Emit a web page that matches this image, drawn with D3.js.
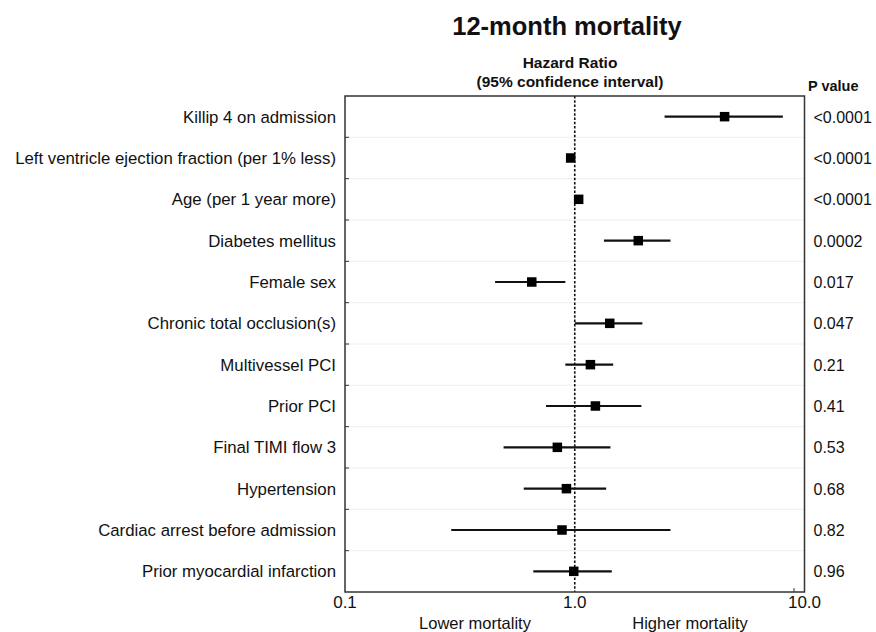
<!DOCTYPE html>
<html>
<head>
<meta charset="utf-8">
<script src="https://cdn.jsdelivr.net/npm/d3@7"></script>
<style>
  body { margin: 0; background: #fff; }
  text { font-family: "Liberation Sans", Arial, sans-serif; fill: #111; }
</style>
</head>
<body>
<div id="chart"></div>
<script>
// Forest plot data
const factors = [
    "Killip 4 on admission",
    "Left ventricle ejection fraction (per 1% less)",
    "Age (per 1 year more)",
    "Diabetes mellitus",
    "Female sex",
    "Chronic total occlusion(s)",
    "Multivessel PCI",
    "Prior PCI",
    "Final TIMI flow 3",
    "Hypertension",
    "Cardiac arrest before admission",
    "Prior myocardial infarction"
];
const hazardRatio = [4.49, 0.96, 1.04, 1.89, 0.65, 1.42, 1.17, 1.23, 0.84, 0.92, 0.88, 0.99];
const ciLower    = [2.46, 0.95, 1.03, 1.34, 0.45, 1.00, 0.91, 0.75, 0.49, 0.60, 0.29, 0.66];
const ciUpper    = [8.05, 0.97, 1.05, 2.61, 0.91, 1.97, 1.47, 1.95, 1.43, 1.37, 2.61, 1.45];
const pValues = ["<0.0001", "<0.0001", "<0.0001", "0.0002", "0.017", "0.047",
                 "0.21", "0.41", "0.53", "0.68", "0.82", "0.96"];
const xTicks = [0.1, 1, 10];
const xTickLabels = ["0.1", "1.0", "10.0"];

const W = 876, H = 632;
const margin = { top: 96, right: 72, bottom: 40, left: 345 };
const plotW = W - margin.left - margin.right + 0.5;
const plotH = H - margin.top - margin.bottom;

const svg = d3.select("#chart").append("svg")
    .attr("width", W)
    .attr("height", H);

const x = d3.scaleLog().domain([0.1, 10]).range([0, plotW]);
const y = d3.scaleBand().domain(factors).range([0, plotH]);

const g = svg.append("g").attr("transform", `translate(${margin.left},${margin.top})`);

// faint row separators
const bounds = factors.slice(1).map(f => y(f));
g.selectAll(".grid").data(bounds).enter().append("line")
    .attr("class", "grid")
    .attr("x1", 0).attr("x2", plotW)
    .attr("y1", d => d).attr("y2", d => d)
    .attr("stroke", "#eeeeee").attr("stroke-width", 1);

// small inward ticks on the left
g.selectAll(".ltick").data(bounds).enter().append("line")
    .attr("class", "ltick")
    .attr("x1", 0).attr("x2", 4)
    .attr("y1", d => d).attr("y2", d => d)
    .attr("stroke", "#333").attr("stroke-width", 1);

// bottom axis labels
g.selectAll(".xlab").data(xTicks).enter().append("text")
    .attr("class", "xlab")
    .attr("x", d => x(d))
    .attr("y", plotH + 16)
    .attr("text-anchor", "middle")
    .attr("font-size", 17)
    .text((d, i) => xTickLabels[i]);

g.append("line")
    .attr("x1", x(9)).attr("x2", x(9))
    .attr("y1", plotH).attr("y2", plotH - 4)
    .attr("stroke", "#333");

// reference line at HR = 1
g.append("line")
    .attr("x1", x(1)).attr("x2", x(1))
    .attr("y1", 0).attr("y2", plotH)
    .attr("stroke", "#111")
    .attr("stroke-width", 1.6)
    .attr("stroke-dasharray", "2.5,1.8");

// confidence intervals
g.selectAll(".ci").data(factors).enter().append("line")
    .attr("class", "ci")
    .attr("x1", (d, i) => x(ciLower[i]))
    .attr("x2", (d, i) => x(ciUpper[i]))
    .attr("y1", d => y(d) + y.bandwidth() / 2)
    .attr("y2", d => y(d) + y.bandwidth() / 2)
    .attr("stroke", "#111")
    .attr("stroke-width", 2.2);

// point estimates
const sq = 9.5;
g.selectAll(".pt").data(factors).enter().append("rect")
    .attr("class", "pt")
    .attr("x", (d, i) => x(hazardRatio[i]) - sq / 2)
    .attr("y", d => y(d) + y.bandwidth() / 2 - sq / 2)
    .attr("width", sq).attr("height", sq)
    .attr("fill", "#000");

// frame
g.append("rect")
    .attr("x", 0).attr("y", 0)
    .attr("width", plotW).attr("height", plotH)
    .attr("fill", "none")
    .attr("stroke", "#333")
    .attr("stroke-width", 1.5);

// factor labels
g.selectAll(".flab").data(factors).enter().append("text")
    .attr("class", "flab")
    .attr("x", -9)
    .attr("y", d => y(d) + y.bandwidth() / 2 + 6)
    .attr("text-anchor", "end")
    .attr("font-size", 16.8)
    .text(d => d);

// p values
g.selectAll(".pval").data(factors).enter().append("text")
    .attr("class", "pval")
    .attr("x", plotW + 9)
    .attr("y", d => y(d) + y.bandwidth() / 2 + 6)
    .attr("font-size", 16)
    .text((d, i) => pValues[i]);

// titles
svg.append("text")
    .attr("x", 567).attr("y", 35)
    .attr("text-anchor", "middle")
    .attr("font-size", 25.5).attr("font-weight", "bold")
    .text("12-month mortality");
svg.append("text")
    .attr("x", 570).attr("y", 68)
    .attr("text-anchor", "middle")
    .attr("font-size", 15.5).attr("font-weight", "bold")
    .text("Hazard Ratio");
svg.append("text")
    .attr("x", 570).attr("y", 87)
    .attr("text-anchor", "middle")
    .attr("font-size", 15.5).attr("font-weight", "bold")
    .text("(95% confidence interval)");
svg.append("text")
    .attr("x", 808).attr("y", 91)
    .attr("font-size", 14.5).attr("font-weight", "bold")
    .text("P value");

svg.append("text")
    .attr("x", 475).attr("y", 629)
    .attr("text-anchor", "middle")
    .attr("font-size", 16.5)
    .text("Lower mortality");
svg.append("text")
    .attr("x", 690).attr("y", 629)
    .attr("text-anchor", "middle")
    .attr("font-size", 16.5)
    .text("Higher mortality");
</script>
</body>
</html>
